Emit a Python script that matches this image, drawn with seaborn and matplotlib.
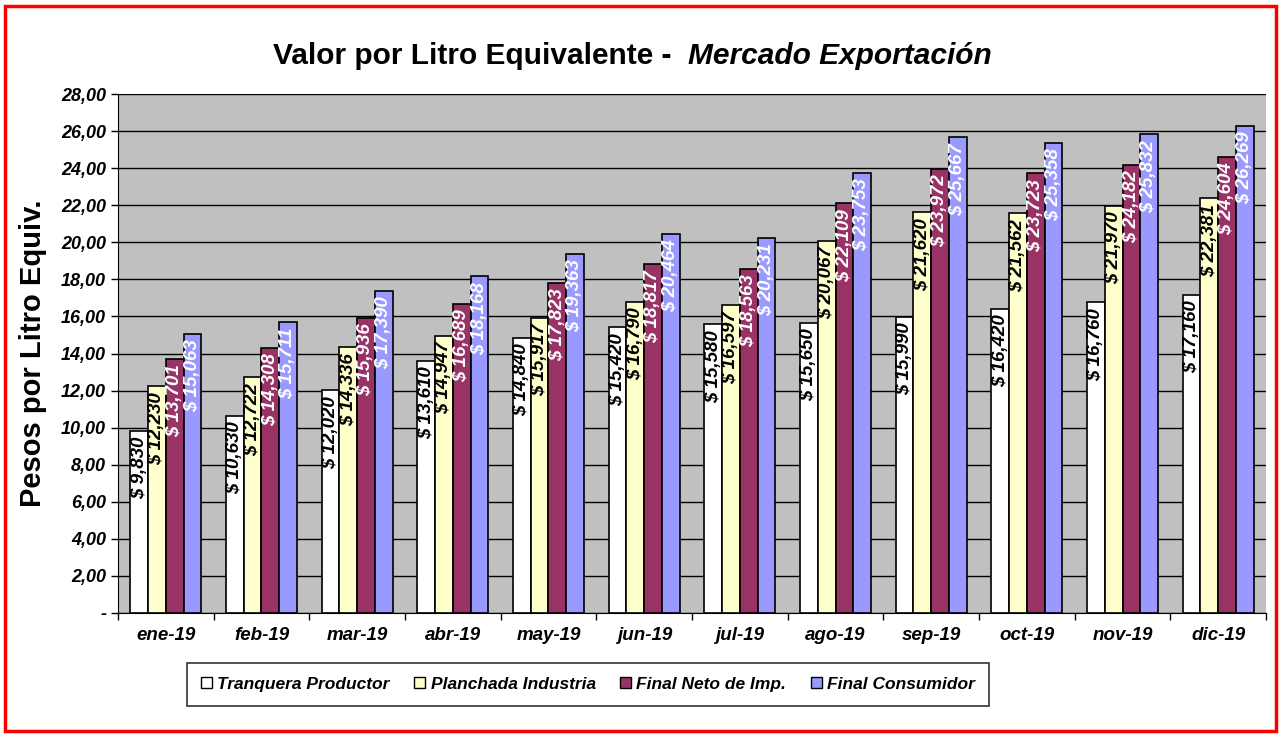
import pandas as pd
import matplotlib.pyplot as plt
import seaborn as sns
from matplotlib.patches import Rectangle
from matplotlib.ticker import FuncFormatter, FixedLocator

meses = ["ene-19", "feb-19", "mar-19", "abr-19", "may-19", "jun-19",
         "jul-19", "ago-19", "sep-19", "oct-19", "nov-19", "dic-19"]
series = ["Tranquera Productor", "Planchada Industria", "Final Neto de Imp.", "Final Consumidor"]
tranquera = [9.830, 10.630, 12.020, 13.610, 14.840, 15.420, 15.580, 15.650, 15.990, 16.420, 16.760, 17.160]
planchada = [12.230, 12.722, 14.336, 14.947, 15.917, 16.790, 16.597, 20.067, 21.620, 21.562, 21.970, 22.381]
final_neto = [13.701, 14.308, 15.936, 16.689, 17.823, 18.817, 18.563, 22.109, 23.972, 23.723, 24.182, 24.604]
final_cons = [15.063, 15.711, 17.390, 18.168, 19.363, 20.464, 20.231, 23.753, 25.667, 25.358, 25.832, 26.269]
colores = ["#FFFFFF", "#FFFFCC", "#993366", "#9999FF"]
color_texto = ["black", "black", "white", "white"]

df = pd.DataFrame({"mes": meses * 4,
                   "serie": [s for s in series for _ in meses],
                   "valor": tranquera + planchada + final_neto + final_cons})

sns.set_style("white")
plt.rcParams['font.family'] = ['Liberation Sans', 'DejaVu Sans']
plt.rcParams.update({"text.color": "black", "xtick.color": "black",
                     "ytick.color": "black", "axes.labelcolor": "black"})

fig = plt.figure(figsize=(12.81, 7.35), dpi=100)
ax = fig.add_axes([0.0921, 0.1660, 0.8962, 0.7060])
ax.set_facecolor("#C0C0C0")

sns.barplot(data=df, x="mes", y="valor", hue="serie", palette=colores,
            edgecolor="black", linewidth=1.2, width=0.74, ax=ax, legend=False,
            errorbar=None, saturation=1)

# etiquetas dentro del extremo de cada barra
for cont, col in zip(ax.containers, color_texto):
    for bar in cont:
        h = bar.get_height()
        txt = "$ " + f"{h:.3f}".replace(".", ",")
        ax.annotate(txt, (bar.get_x() + bar.get_width() / 2, h), xytext=(0, -4),
                    textcoords="offset points", rotation=90, rotation_mode="anchor",
                    ha="right", va="center", fontsize=13.5, fontweight="bold",
                    fontstyle="italic", color=col)

ax.set_ylim(0, 28)
ax.set_xlim(-0.5, 11.5)
ax.set_yticks(range(0, 29, 2))
ax.yaxis.set_major_formatter(FuncFormatter(lambda v, p: "-" if v == 0 else f"{v:.2f}".replace(".", ",")))
ax.grid(axis="y", color="black", linewidth=1)
ax.set_axisbelow(True)
ax.tick_params(axis="y", direction="out", length=5, width=1, left=True, labelsize=13)
ax.tick_params(axis="x", which="major", length=0, pad=10, labelsize=13.5)
ax.xaxis.set_minor_locator(FixedLocator([i - 0.5 for i in range(13)]))
ax.tick_params(axis="x", which="minor", direction="out", length=5, width=1, bottom=True)
for lab in ax.get_xticklabels() + ax.get_yticklabels():
    lab.set_fontweight("bold")
    lab.set_fontstyle("italic")
for s in ax.spines.values():
    s.set_visible(False)
ax.spines["left"].set_visible(True)
ax.spines["bottom"].set_visible(True)
ax.spines["left"].set_color("black")
ax.spines["bottom"].set_color("black")
ax.set_xlabel("")
ax.set_ylabel("Pesos por Litro Equiv.", fontsize=21, fontweight="bold", labelpad=10)

# titulo en dos partes
t1 = fig.text(0, 0.924, "Valor por Litro Equivalente -  ", fontsize=21.5, fontweight="bold", va="center")
t2 = fig.text(0, 0.924, "Mercado Exportación", fontsize=21.5, fontweight="bold", fontstyle="italic", va="center")
r = fig.canvas.get_renderer()
w1 = t1.get_window_extent(r).width / fig.bbox.width
w2 = t2.get_window_extent(r).width / fig.bbox.width
x0 = 0.4934 - (w1 + w2) / 2
t1.set_x(x0)
t2.set_x(x0 + w1)

handles = [Rectangle((0, 0), 1, 1, facecolor=c, edgecolor="black", linewidth=1) for c in colores]
leg = fig.legend(handles, series, loc="center", bbox_to_anchor=(0.459, 0.069), ncol=4,
                 frameon=True, fancybox=False, edgecolor="black", handlelength=0.65,
                 handleheight=0.65, handletextpad=0.3, columnspacing=1.4,
                 borderpad=0.8, prop={"weight": "bold", "style": "italic", "size": 12.5})
leg.get_frame().set_linewidth(1.2)

fig.patches.append(Rectangle((0.004, 0.006), 0.992, 0.986, transform=fig.transFigure,
                             fill=False, edgecolor="red", linewidth=2.5))

fig.savefig("out.png", dpi=100)
